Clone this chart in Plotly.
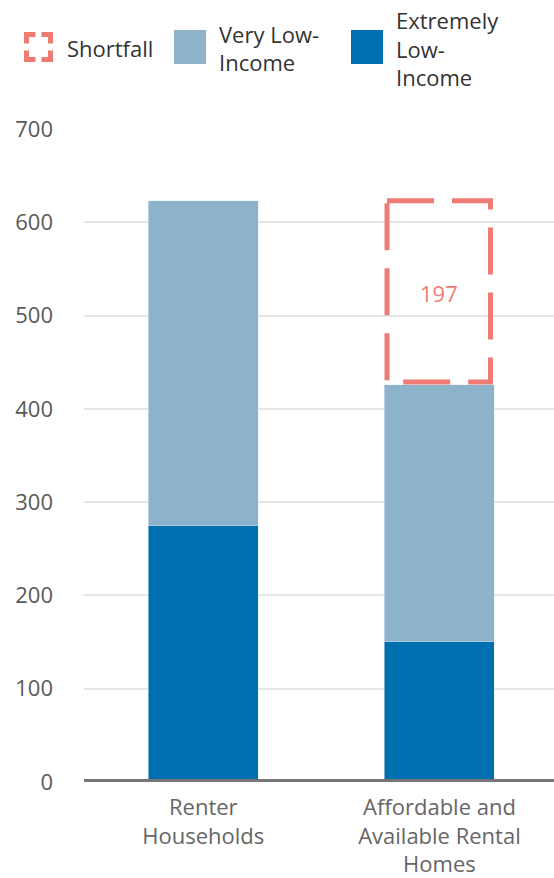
import plotly.graph_objects as go

# ---- data ----
categories = ["Renter<br>Households", "Affordable and<br>Available Rental<br>Homes"]
extremely_low = [275, 151]
very_low = [348, 275]
legend_labels = [["Shortfall"], ["Very Low-", "Income"], ["Extremely", "Low-", "Income"]]
y_ticks = [0, 100, 200, 300, 400, 500, 600, 700]

totals = [e + v for e, v in zip(extremely_low, very_low)]
shortfall = totals[0] - totals[1]

# ---- style ----
C_VLI = "#8DB3CA"
C_ELI = "#006FB0"
C_SHORT = "#EE7C74"
FONT = "Open Sans"
W, H = 554, 878
# plot area in page pixels: left 84, top 129, bottom 782, right 554
ML, MR, MT, MB = 84, 0, 129, 878 - 782
PW, PH = W - ML - MR, H - MT - MB
BARGAP = 0.534
BW = 1 - BARGAP


def px(x):  # page pixel -> paper
    return (x - 84) / PW


def py(y):
    return (782 - y) / PH


fig = go.Figure()
fig.add_trace(go.Bar(x=categories, y=extremely_low, marker_color=C_ELI,
                     name="Extremely Low-Income", hoverinfo="skip"))
fig.add_trace(go.Bar(x=categories, y=very_low, marker_color=C_VLI,
                     name="Very Low-Income", hoverinfo="skip"))

shapes = []
# shortfall dashed box on second bar
lw = 5
half_lw_data = (lw / 2) / (PH / 700)
inset = 0.011
shapes.append(dict(type="rect", xref="x", yref="y",
                   x0=1 - BW / 2 + inset, x1=1 + BW / 2 - inset - 0.006,
                   y0=totals[0], y1=totals[1] + half_lw_data,
                   line=dict(color=C_SHORT, width=lw, dash="47px,18px"),
                   fillcolor="rgba(0,0,0,0)", layer="above"))
# baseline
shapes.append(dict(type="line", xref="paper", yref="y", x0=0, x1=1, y0=0, y1=0,
                   line=dict(color="#767676", width=6), layer="above"))

# ---- manual legend ----
x0i, x1i, y0i, y1i = 26.5, 50.5, 34.5, 59.5
arm = 9
corners = [
    [(x0i, y0i + arm), (x0i, y0i), (x0i + arm, y0i)],
    [(x1i - arm, y0i), (x1i, y0i), (x1i, y0i + arm)],
    [(x1i, y1i - arm), (x1i, y1i), (x1i - arm, y1i)],
    [(x0i + arm, y1i), (x0i, y1i), (x0i, y1i - arm)],
]
for c in corners:
    path = "M {} {} L {} {} L {} {}".format(px(c[0][0]), py(c[0][1]), px(c[1][0]), py(c[1][1]),
                                            px(c[2][0]), py(c[2][1]))
    shapes.append(dict(type="path", xref="paper", yref="paper", path=path,
                       line=dict(color=C_SHORT, width=5)))
for (xa, xb), col in [((174, 206), C_VLI), ((351, 383), C_ELI)]:
    shapes.append(dict(type="rect", xref="paper", yref="paper",
                       x0=px(xa), x1=px(xb), y0=py(64), y1=py(30),
                       fillcolor=col, line=dict(width=0)))

annotations = []
LEG_FONT = dict(family=FONT, size=22, color="#333333")
LINE_H = 28
for lines, xl, yc in zip(legend_labels, [65, 217, 394], [48, 48, 48.5]):
    n = len(lines)
    for i, ln in enumerate(lines):
        yy = yc + (i - (n - 1) / 2) * LINE_H
        annotations.append(dict(text=ln, xref="paper", yref="paper", x=px(xl), y=py(yy),
                                xanchor="left", yanchor="middle", align="left",
                                showarrow=False, font=LEG_FONT))
annotations.append(dict(text=str(shortfall), xref="x", yref="y", x=1,
                        y=totals[1] + shortfall / 2, showarrow=False,
                        font=dict(family=FONT, size=22, color=C_SHORT)))

fig.update_layout(
    width=W, height=H,
    barmode="stack", bargap=BARGAP,
    margin=dict(l=ML, r=MR, t=MT, b=MB, pad=0),
    paper_bgcolor="white", plot_bgcolor="white",
    showlegend=False,
    font=dict(family=FONT),
    shapes=shapes, annotations=annotations,
    xaxis=dict(range=[-0.505, 1.485], showgrid=False, showline=False, ticks="",
               tickfont=dict(family=FONT, size=22, color="#666666"),
               ticklabelstandoff=10),
    yaxis=dict(range=[0, 700], tickvals=y_ticks, showgrid=True, gridcolor="#E6E6E6",
               gridwidth=2, zeroline=False, showline=False, ticks="",
               tickfont=dict(family=FONT, size=22, color="#595959"),
               ticklabelstandoff=30),
)

fig.write_html("out.html", config={"displayModeBar": False},
               post_script="document.body.style.margin='0';")
